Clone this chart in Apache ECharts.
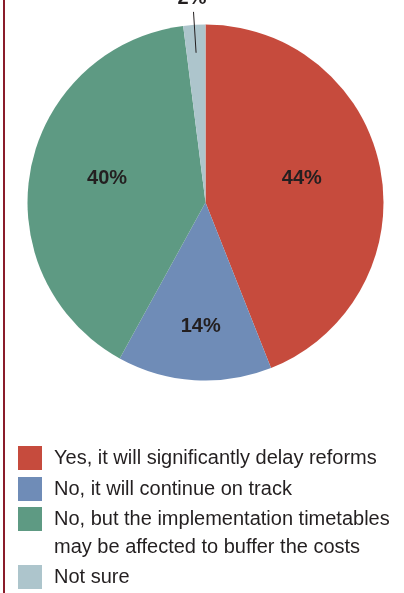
<!DOCTYPE html>
<html>
<head>
<meta charset="utf-8">
<script src="https://cdn.jsdelivr.net/npm/echarts@6/dist/echarts.min.js"></script>
<style>
html,body{margin:0;padding:0;background:#fff;}
#chart{width:404px;height:593px;}
</style>
</head>
<body>
<div id="chart"></div>
<script>
var categories = [
  'Yes, it will significantly delay reforms',
  'No, it will continue on track',
  'No, but the implementation timetables\nmay be affected to buffer the costs',
  'Not sure'
];
var values = [44, 14, 40, 2];
var colors = ['#c64b3d', '#6f8cb7', '#5e9a83', '#adc5cc'];

var FONT = '"Liberation Sans", Arial, sans-serif';
var TEXT = '#231f20';
var labelOffsets = [[6, -7], [1, 32], [-8, -7], [0, 0]];

var mainData = categories.map(function (c, i) {
  return {
    name: c,
    value: values[i],
    itemStyle: { color: colors[i] },
    label: { show: i < 3, offset: labelOffsets[i] }
  };
});
var calloutData = categories.map(function (c, i) {
  return {
    name: c,
    value: values[i],
    label: { show: i === 3 },
    labelLine: { show: i === 3 }
  };
});

var chart = echarts.init(document.getElementById('chart'), null, { renderer: 'canvas' });
chart.setOption({
  animation: false,
  backgroundColor: '#fff',
  graphic: [{
    type: 'rect',
    shape: { x: 3, y: 0, width: 2, height: 593 },
    style: { fill: '#8a1c2a' },
    silent: true
  }],
  legend: [
    {
      data: [categories[0], categories[1]],
      orient: 'vertical', left: 18, top: 446, padding: 0,
      itemWidth: 24, itemHeight: 24, itemGap: 7, icon: 'rect',
      itemStyle: { borderWidth: 0 },
      selectedMode: false,
      textStyle: { fontFamily: FONT, fontSize: 20, color: TEXT, padding: [0, 0, 0, 7] }
    },
    {
      data: [{ name: categories[2], icon: 'path://M0,0H24V24H0Z M0,52' }],
      orient: 'vertical', left: 18, top: 505, padding: 0,
      itemWidth: 24, itemHeight: 52, itemGap: 0,
      itemStyle: { borderWidth: 0 },
      selectedMode: false,
      textStyle: { fontFamily: FONT, fontSize: 20, color: TEXT, lineHeight: 28, padding: [0, 0, 0, 7] }
    },
    {
      data: [categories[3]],
      orient: 'vertical', left: 18, top: 565, padding: 0,
      itemWidth: 24, itemHeight: 24, icon: 'rect',
      itemStyle: { borderWidth: 0 },
      selectedMode: false,
      textStyle: { fontFamily: FONT, fontSize: 20, color: TEXT, padding: [0, 0, 0, 7] }
    }
  ],
  series: [
    {
      type: 'pie',
      center: [205.5, 202.5],
      radius: 178,
      startAngle: 90,
      clockwise: true,
      avoidLabelOverlap: false,
      silent: true,
      itemStyle: { borderWidth: 0 },
      label: {
        position: 'inside',
        formatter: '{c}%',
        fontFamily: FONT,
        fontSize: 20,
        fontWeight: 'bold',
        color: TEXT
      },
      labelLine: { show: false },
      emphasis: { disabled: true },
      data: mainData
    },
    {
      type: 'pie',
      center: [205.5, 202.5],
      radius: 150,
      startAngle: 90,
      clockwise: true,
      avoidLabelOverlap: false,
      silent: true,
      z: 3,
      itemStyle: { color: 'rgba(0,0,0,0)', borderWidth: 0 },
      label: {
        position: 'outside',
        formatter: '{c}%',
        fontFamily: FONT,
        fontSize: 20,
        fontWeight: 'bold',
        color: TEXT,
        distanceToLabelLine: -13
      },
      labelLine: { length: 41, length2: 0, lineStyle: { color: TEXT, width: 1 } },
      labelLayout: function () { return { dy: -13 }; },
      emphasis: { disabled: true },
      data: calloutData
    }
  ]
});
</script>
</body>
</html>
